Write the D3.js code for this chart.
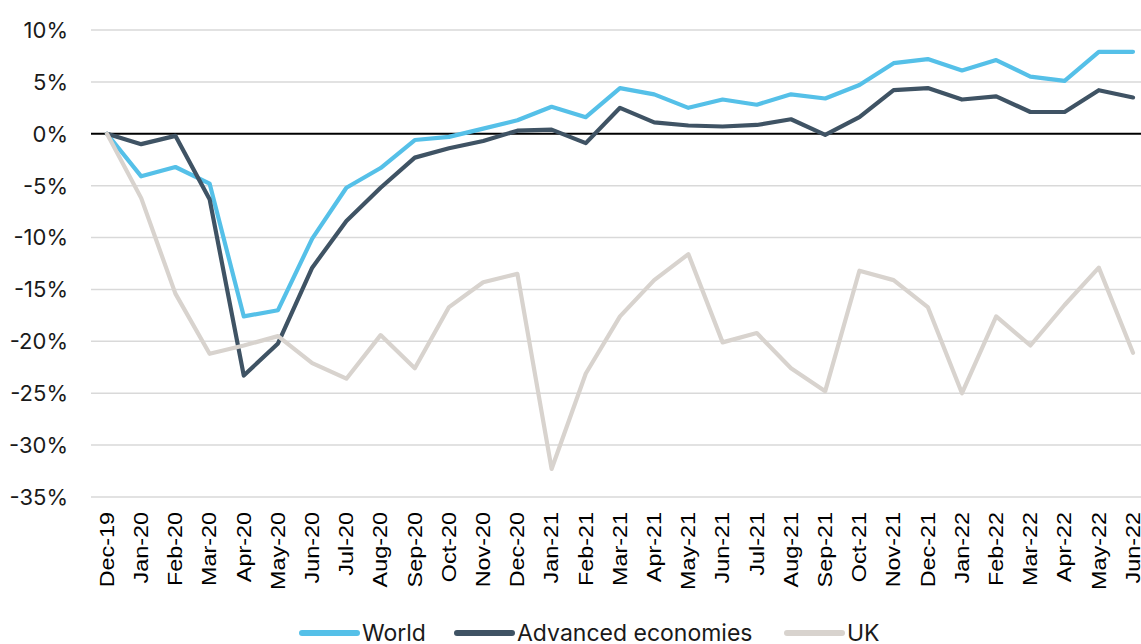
<!DOCTYPE html>
<html>
<head>
<meta charset="utf-8">
<script src="https://cdn.jsdelivr.net/npm/d3@7"></script>
<style>
  html, body { margin: 0; padding: 0; background: #fff; }
  svg { display: block; }
</style>
</head>
<body>
<svg id="chart" width="1141" height="644"></svg>
<script>
// Month labels along the x axis
const months = ["Dec-19","Jan-20","Feb-20","Mar-20","Apr-20","May-20","Jun-20","Jul-20","Aug-20","Sep-20","Oct-20","Nov-20","Dec-20",
  "Jan-21","Feb-21","Mar-21","Apr-21","May-21","Jun-21","Jul-21","Aug-21","Sep-21","Oct-21","Nov-21","Dec-21",
  "Jan-22","Feb-22","Mar-22","Apr-22","May-22","Jun-22"];

// Percentage change since Dec-19
const world = [0, -4.1, -3.2, -4.8, -17.6, -17.0, -10.1, -5.2, -3.3, -0.6, -0.3, 0.5, 1.3,
  2.6, 1.6, 4.4, 3.8, 2.5, 3.3, 2.8, 3.8, 3.4, 4.7, 6.8, 7.2,
  6.1, 7.1, 5.5, 5.1, 7.9, 7.9];
const advanced = [0, -1.0, -0.2, -6.3, -23.3, -20.2, -12.9, -8.4, -5.2, -2.3, -1.4, -0.7, 0.3,
  0.4, -0.9, 2.5, 1.1, 0.8, 0.7, 0.85, 1.4, -0.1, 1.6, 4.2, 4.4,
  3.3, 3.6, 2.1, 2.1, 4.2, 3.5];
const uk = [0, -6.2, -15.4, -21.2, -20.4, -19.5, -22.1, -23.6, -19.4, -22.6, -16.7, -14.3, -13.5,
  -32.3, -23.1, -17.6, -14.1, -11.6, -20.1, -19.2, -22.6, -24.8, -13.2, -14.1, -16.7,
  -25.0, -17.6, -20.4, -16.5, -12.9, -21.1];

const yTicks = [10, 5, 0, -5, -10, -15, -20, -25, -30, -35];
const seriesNames = ["World", "Advanced economies", "UK"];
const seriesColors = ["#55c0e8", "#3f5364", "#d8d3ce"];

const svg = d3.select("#chart");
const plotLeft = 91, plotRight = 1141;
const labelStretch = 1.2;

const x = d3.scalePoint().domain(months).range([107, 1133]);
const y = d3.scaleLinear().domain([-35, 10]).range([497, 30]);

// Horizontal gridlines and y labels
const yAxis = svg.append("g");
yAxis.selectAll("line.grid")
  .data(yTicks.filter(t => t !== 0))
  .join("line")
  .attr("class", "grid")
  .attr("x1", plotLeft).attr("x2", plotRight)
  .attr("y1", d => y(d)).attr("y2", d => y(d))
  .attr("stroke", "#d9d9d9").attr("stroke-width", 1.5);

yAxis.selectAll("text")
  .data(yTicks)
  .join("text")
  .attr("x", 68)
  .attr("y", d => y(d))
  .attr("text-anchor", "end")
  .attr("dy", "0.36em")
  .attr("font-family", "Inter, 'Noto Sans', sans-serif")
  .attr("font-size", 22)
  .attr("fill", "#1a1a1a")
  .text(d => d + "%");

// x labels, rotated
svg.append("g").selectAll("text")
  .data(months)
  .join("text")
  .attr("transform", d => `translate(${x(d)},512) scale(1,${labelStretch}) rotate(-90)`)
  .attr("text-anchor", "end")
  .attr("dy", "0.35em")
  .attr("font-family", "'Liberation Sans', Arial, sans-serif")
  .attr("font-size", 19.5)
  .attr("fill", "#000")
  .text(d => d);

// Zero baseline
svg.append("line")
  .attr("x1", plotLeft).attr("x2", plotRight)
  .attr("y1", y(0)).attr("y2", y(0))
  .attr("stroke", "#000").attr("stroke-width", 2);

// Series lines
const series = [world, advanced, uk];
const line = d3.line().x((d, i) => x(months[i])).y(d => y(d));
svg.append("g").selectAll("path")
  .data(series)
  .join("path")
  .attr("d", d => line(d))
  .attr("fill", "none")
  .attr("stroke", (d, i) => seriesColors[i])
  .attr("stroke-width", 4.2)
  .attr("stroke-linejoin", "round")
  .attr("stroke-linecap", "round");

// Legend
const legendX = [302, 457, 787];
const legend = svg.append("g").selectAll("g")
  .data(seriesNames)
  .join("g")
  .attr("transform", (d, i) => `translate(${legendX[i]},633)`);
legend.append("line")
  .attr("x1", 0).attr("x2", 55)
  .attr("stroke", (d, i) => seriesColors[i])
  .attr("stroke-width", 6)
  .attr("stroke-linecap", "round");
legend.append("text")
  .attr("x", 60)
  .attr("dy", "0.34em")
  .attr("font-family", "Inter, 'Noto Sans', sans-serif")
  .attr("font-size", 23)
  .attr("fill", "#1a1a1a")
  .text(d => d);
</script>
</body>
</html>
